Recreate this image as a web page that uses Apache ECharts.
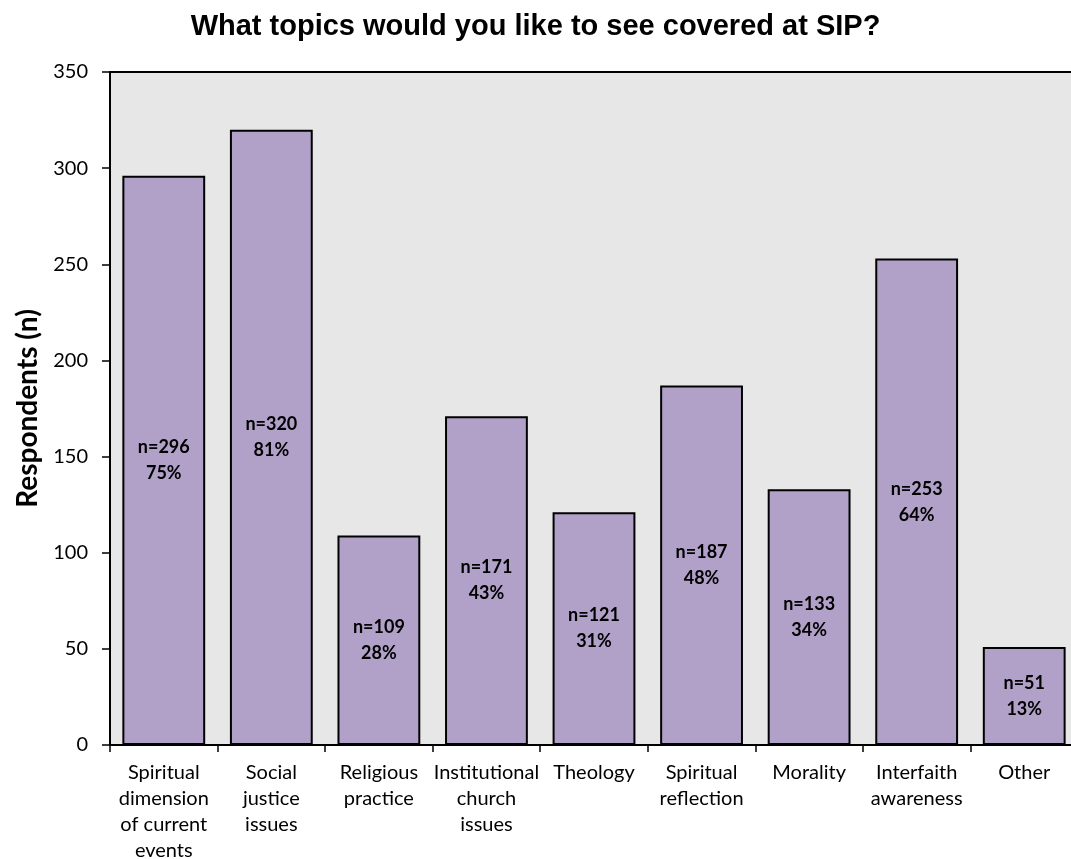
<!DOCTYPE html>
<html>
<head>
<meta charset="utf-8">
<script src="https://cdn.jsdelivr.net/npm/echarts@6/dist/echarts.min.js"></script>
<style>
  html, body { margin: 0; padding: 0; background: #fff; }
  #chart { width: 1071px; height: 859px; }
</style>
</head>
<body>
<div id="chart"></div>
<script>
// Survey: topics respondents would like to see covered
const categories = [
  'Spiritual\ndimension\nof current\nevents',
  'Social\njustice\nissues',
  'Religious\npractice',
  'Institutional\nchurch\nissues',
  'Theology',
  'Spiritual\nreflection',
  'Morality',
  'Interfaith\nawareness',
  'Other'
];
const respondents = [296, 320, 109, 171, 121, 187, 133, 253, 51];
const percents = [75, 81, 28, 43, 31, 48, 34, 64, 13];
const yTicks = { min: 0, max: 350, interval: 50 };

const chart = echarts.init(document.getElementById('chart'));
chart.setOption({
  animation: false,
  backgroundColor: '#ffffff',
  title: {
    text: 'What topics would you like to see covered at SIP?',
    left: 'center',
    top: 7,
    textStyle: {
      fontFamily: 'Liberation Sans, Arial, sans-serif',
      fontWeight: 'bold',
      fontSize: 29,
      color: '#000'
    }
  },
  grid: {
    left: 110,
    top: 72,
    width: 968,
    height: 673,
    outerBoundsMode: 'none',
    containLabel: false,
    show: true,
    backgroundColor: '#e7e7e7',
    borderColor: '#000',
    borderWidth: 2
  },
  xAxis: {
    type: 'category',
    data: categories,
    axisLine: { lineStyle: { color: '#000', width: 2 } },
    axisTick: { show: true, length: 7, lineStyle: { color: '#000', width: 1.5 } },
    axisLabel: {
      interval: 0,
      margin: 15,
      fontFamily: 'Lato, sans-serif',
      fontSize: 20,
      lineHeight: 26,
      color: '#000'
    }
  },
  yAxis: {
    type: 'value',
    min: yTicks.min,
    max: yTicks.max,
    interval: yTicks.interval,
    name: 'Respondents (n)',
    nameLocation: 'middle',
    nameGap: 68,
    nameTextStyle: {
      fontFamily: 'Lato, sans-serif',
      fontWeight: 'bold',
      fontSize: 28,
      color: '#000'
    },
    splitLine: { show: false },
    axisLine: { show: true, lineStyle: { color: '#000', width: 2 } },
    axisTick: { show: true, length: 8, lineStyle: { color: '#000', width: 1.5 } },
    axisLabel: {
      margin: 22,
      fontFamily: 'Lato, sans-serif',
      fontSize: 20,
      color: '#000'
    }
  },
  series: [{
    type: 'bar',
    data: respondents,
    barCategoryGap: '23%',
    itemStyle: { color: '#b1a1c8', borderColor: '#000', borderWidth: 2 },
    label: {
      show: true,
      position: 'inside',
      fontFamily: 'Lato, sans-serif',
      fontWeight: 'bold',
      fontSize: 18,
      lineHeight: 26,
      color: '#000',
      formatter: p => 'n=' + respondents[p.dataIndex] + '\n' + percents[p.dataIndex] + '%'
    }
  }]
});
</script>
</body>
</html>
